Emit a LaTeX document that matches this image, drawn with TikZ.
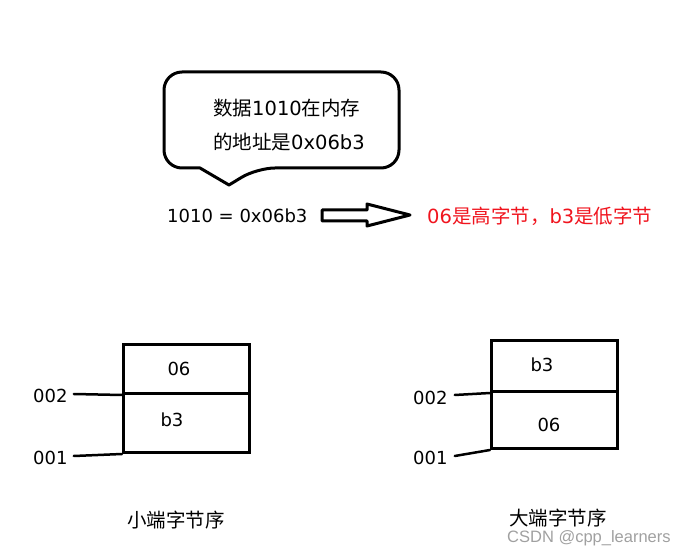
\documentclass[tikz,border=0pt]{standalone}
\usepackage{fontspec}
\setmainfont{DejaVu Sans}
\newfontfamily\cjk{Noto Sans CJK SC}
\newfontfamily\wmfont{Liberation Sans}
\definecolor{redtxt}{RGB}{240,20,30}
\definecolor{wmgray}{RGB}{160,160,160}
\begin{document}
\begin{tikzpicture}[x=1pt,y=-1pt,
  outline/.style={line width=3pt, line join=round},
  cell/.style={draw, line width=3pt, minimum width=126pt, inner sep=0pt, anchor=north west},
  txt/.style={inner sep=0pt, font=\fontsize{18}{18}\selectfont},
  bigtxt/.style={inner sep=0pt, font=\fontsize{19.5}{19.5}\selectfont},
  conn/.style={line width=2.5pt, line cap=round}]
\useasboundingbox (0,0) rectangle (689,556);

% callout
\draw[outline] (200,168) [rounded corners=18pt] -- (164,168) -- (164,72) -- (399,72) -- (399,168) -- (257,168) [sharp corners] -- (229,185) -- cycle;
\node[bigtxt, anchor=west] (c1) at (213,108) {{\cjk 数据}1010{\cjk 在内存}};
\node[bigtxt, anchor=west] (c2) at (213,142) {{\cjk 的地址是}0x06b3};

% equation and block arrow
\node[txt, anchor=west] (eq) at (167,216) {1010 = 0x06b3};
\draw[outline, fill=white] (322,210) -- (367,210) -- (367,204) -- (410,215) -- (367,226) -- (367,221) -- (322,221) -- cycle;
\node[bigtxt, anchor=west, text=redtxt] (hl) at (427,216) {06{\cjk 是高字节，}b3{\cjk 是低字节}};

% little endian
\node[cell, minimum height=49pt] (L1) at (122,343) {};
\node[cell, minimum height=59pt] (L2) at (122,392) {};
\node[txt] (L1t) at (179,369) {06};
\node[txt] (L2t) at (172,420) {b3};
\node[txt, anchor=west] (L002) at (33,396) {002};
\node[txt, anchor=west] (L001) at (33,458) {001};
\draw[conn] ([shift={(6,-2)}]L002.east) -- (L1.south west);
\draw[conn] ([shift={(6,-2)}]L001.east) -- (L2.south west);
\node[bigtxt] (Lcap) at (176,520) {\cjk 小端字节序};

% big endian
\node[cell, minimum height=51pt] (R1) at (490,339) {};
\node[cell, minimum height=57pt] (R2) at (490,390) {};
\node[txt] (R1t) at (542,365) {b3};
\node[txt] (R2t) at (549,425) {06};
\node[txt, anchor=west] (R002) at (413,398) {002};
\node[txt, anchor=west] (R001) at (413,458) {001};
\draw[conn] ([shift={(7,-3)}]R002.east) -- (R1.south west);
\draw[conn] ([shift={(7,-2)}]R001.east) -- (R2.south west);
\node[bigtxt] (Rcap) at (558,518) {\cjk 大端字节序};

% watermark
\node[inner sep=0pt, anchor=west, text=wmgray, font=\wmfont\fontsize{16.5}{16.5}\selectfont] (wm) at (507,538) {CSDN @cpp\_learners};
\end{tikzpicture}
\end{document}
